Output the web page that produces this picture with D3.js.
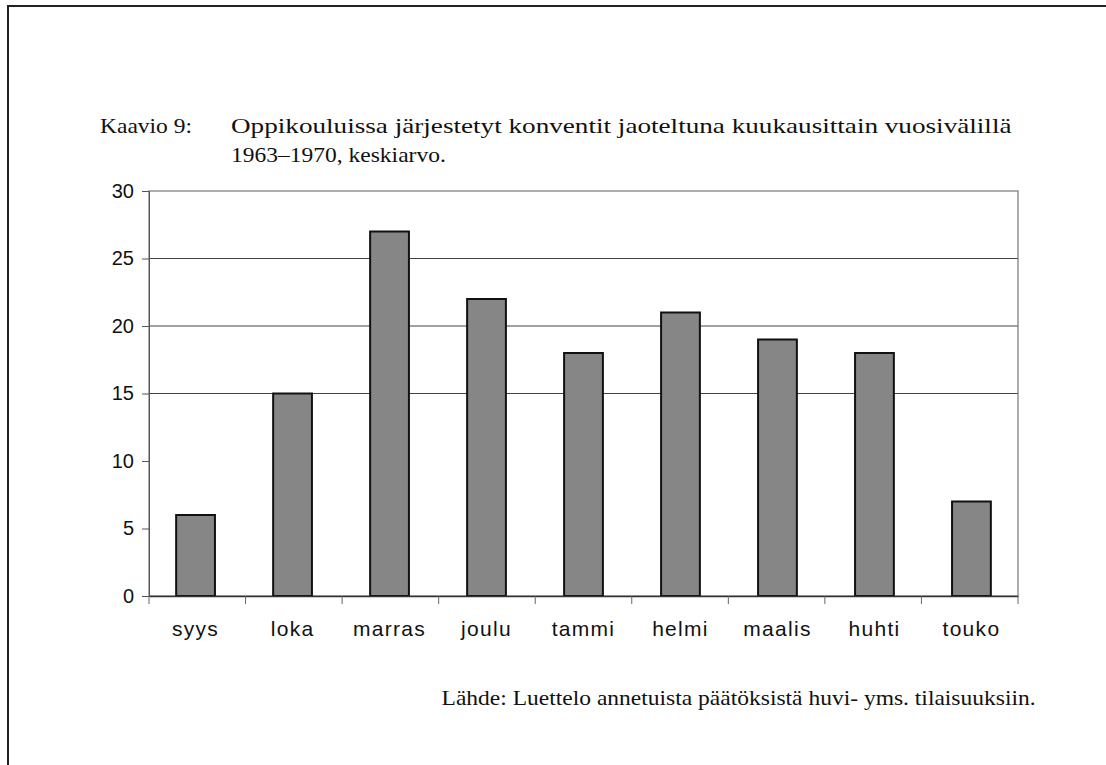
<!DOCTYPE html>
<html>
<head>
<meta charset="utf-8">
<script src="https://cdn.jsdelivr.net/npm/d3@7"></script>
<style>
  body { margin: 0; background: #fff; }
  .serif { font-family: "Liberation Serif", "Times New Roman", serif; fill: #111; }
  .axis text { font-family: "Liberation Sans", Arial, sans-serif; fill: #111; }
</style>
</head>
<body>
<div id="chart"></div>
<script>
// data
var months = ["syys", "loka", "marras", "joulu", "tammi", "helmi", "maalis", "huhti", "touko"];
var counts = [6, 15, 27, 22, 18, 21, 19, 18, 7];
var yTicks = [0, 5, 10, 15, 20, 25, 30];
var gridTicks = [15, 20, 25];

var titleLabel = "Kaavio 9:";
var titleLines = ["Oppikouluissa järjestetyt konventit jaoteltuna kuukausittain vuosivälillä",
                  "1963–1970, keskiarvo."];
var sourceText = "Lähde: Luettelo annetuista päätöksistä huvi- yms. tilaisuuksiin.";

var W = 1106, H = 765;
var margin = { top: 191, right: 88, bottom: 169, left: 149 },
    width = W - margin.left - margin.right,
    height = H - margin.top - margin.bottom;

var svg = d3.select("#chart").append("svg")
    .attr("width", W)
    .attr("height", H);

// page frame (top and left edges visible)
svg.append("path")
    .attr("d", "M8," + H + "V6H" + W)
    .attr("fill", "none")
    .attr("stroke", "#222")
    .attr("stroke-width", 2);

// the scan is slightly stretched sideways, so serif text gets a small x-scale
var stretch = 1.12;
function serifText(str, x, y, size, opts) {
    opts = opts || {};
    var t = svg.append("text")
        .attr("class", "serif")
        .style("font-size", size + "px")
        .text(str);
    var natural = t.node().getComputedTextLength();
    var k = opts.fitWidth ? opts.fitWidth / natural : stretch;
    var left = opts.right ? opts.right - natural * k : x;
    t.attr("transform", "translate(" + left + "," + y + ") scale(" + k + ",1)");
    return t;
}

serifText(titleLabel, 100, 133, 21);
serifText(titleLines[0], 231, 133, 21, { fitWidth: 781 });
serifText(titleLines[1], 231, 162, 21);
serifText(sourceText, 0, 705, 21, { right: 1036 });

var g = svg.append("g")
    .attr("transform", "translate(" + margin.left + "," + margin.top + ")");

var xScale = d3.scaleBand()
    .domain(months)
    .range([0, width])
    .paddingInner(0.6)
    .paddingOuter(0.28);

var yScale = d3.scaleLinear()
    .domain([0, 30])
    .range([height, 0]);

// gridlines
g.selectAll(".grid")
    .data(gridTicks)
    .enter().append("line")
    .attr("class", "grid")
    .attr("x1", 0).attr("x2", width)
    .attr("y1", function (d) { return yScale(d); })
    .attr("y2", function (d) { return yScale(d); })
    .attr("stroke", "#444")
    .attr("stroke-width", 1);

// plot frame
g.append("rect")
    .attr("width", width)
    .attr("height", height)
    .attr("fill", "none")
    .attr("stroke", "#777")
    .attr("stroke-width", 1.2);

g.selectAll(".bar")
    .data(counts)
    .enter().append("rect")
    .attr("class", "bar")
    .attr("x", function (d, i) { return xScale(months[i]); })
    .attr("width", xScale.bandwidth())
    .attr("y", function (d) { return yScale(d); })
    .attr("height", function (d) { return height - yScale(d); })
    .attr("fill", "#868686")
    .attr("stroke", "#111")
    .attr("stroke-width", 2);

// y axis
var yAxis = g.append("g")
    .attr("class", "axis")
    .call(d3.axisLeft(yScale).tickValues(yTicks).tickSize(7).tickPadding(8));
yAxis.select(".domain").attr("stroke", "#555");
yAxis.selectAll(".tick line").attr("stroke", "#555");
yAxis.selectAll("text").style("font-size", "20px");

// x axis: ticks sit between categories
var xAxis = g.append("g")
    .attr("class", "axis")
    .attr("transform", "translate(0," + height + ")")
    .call(d3.axisBottom(xScale).tickSize(0).tickPadding(25));
xAxis.select(".domain").attr("stroke", "#333").attr("stroke-width", 1.5);
xAxis.selectAll("text")
    .style("font-size", "21px")
    .style("letter-spacing", "1.3px");

xAxis.selectAll(".sep")
    .data(d3.range(months.length + 1))
    .enter().append("line")
    .attr("class", "sep")
    .attr("x1", function (i) { return i * width / months.length; })
    .attr("x2", function (i) { return i * width / months.length; })
    .attr("y1", 0).attr("y2", 8)
    .attr("stroke", "#666");
</script>
</body>
</html>
